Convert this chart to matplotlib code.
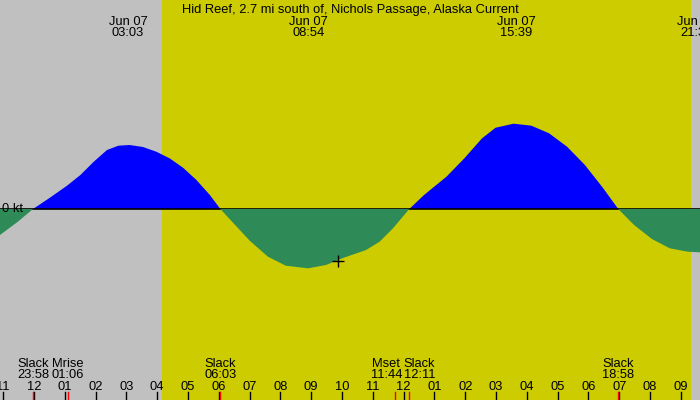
import matplotlib
matplotlib.use('Agg')
import matplotlib.pyplot as plt
import matplotlib.transforms as mtransforms
import numpy as np

# current speed (kt), time in hours from midnight Jun 07
hours = [-1.104, -0.523, -0.033, 0.487, 1.071, 1.506, 1.94, 2.37, 2.737, 3.10,
         3.536, 3.969, 4.403, 4.838, 5.273, 5.708, 6.05, 6.429, 7.013, 7.594,
         8.172, 8.896, 9.477, 10.057, 10.779, 11.218, 11.652, 12.183, 12.662, 13.39,
         13.97, 14.545, 14.984, 15.565, 16.144, 16.72, 17.305, 17.883, 18.464, 18.967,
         19.48, 20.06, 20.636, 21.218, 21.62]
speed = [-0.406, -0.198, 0.0, 0.167, 0.364, 0.531, 0.739, 0.922, 0.989, 1.0,
         0.969, 0.895, 0.792, 0.645, 0.453, 0.219, 0.0, -0.198, -0.5, -0.745,
         -0.886, -0.927, -0.875, -0.761, -0.641, -0.511, -0.302, 0.0, 0.219, 0.505,
         0.792, 1.105, 1.27, 1.333, 1.302, 1.183, 0.973, 0.688, 0.333, 0.0,
         -0.25, -0.469, -0.614, -0.667, -0.677]

title = 'Hid Reef, 2.7 mi south of, Nichols Passage, Alaska Current'
sunrise, sunset = 4.15, 21.33

# max / min current labels along the top
peak_hours = [3.05, 8.9, 15.65, 21.5]
peak_labels = ['03:03', '08:54', '15:39', '21:30']

# events along the bottom
event_hours = [-0.033, 1.1, 6.05, 11.733, 12.183, 18.967]
event_names = ['Slack', 'Mrise', 'Slack', 'Mset', 'Slack', 'Slack']
event_times = ['23:58', '01:06', '06:03', '11:44', '12:11', '18:58']
event_nudge = [0, 0, 0, -9, 10, 0]  # px, keeps crowded labels apart

now_hour, now_speed = 9.87, -0.81

x0, x1 = -1.104, 21.62
grey = '#c0c0c0'
yellow = '#cccc00'

fig = plt.figure(figsize=(7, 4), dpi=100)
fig.patch.set_facecolor(grey)
ax = fig.add_axes([0, 0, 1, 1])
ax.set_facecolor(grey)
ax.set_xlim(x0, x1)
ax.set_ylim(-191 / 64, 209 / 64)
ax.axis('off')

ax.axvspan(sunrise, sunset, color=yellow, lw=0, zorder=0)

h = np.array(hours)
s = np.array(speed)
ax.fill_between(h, 0, s, where=s >= 0, interpolate=True, color='#0000ff', lw=0, zorder=1)
ax.axhline(0, color='black', lw=1.2, zorder=2)
ax.fill_between(h, 0, s, where=s <= 0, interpolate=True, color='#2e8b57', lw=0, zorder=3)

ax.plot([now_hour], [now_speed], marker='+', color='black', ms=9, mew=1, zorder=4)

font = dict(family='Liberation Sans', fontsize=9.3)
tr = mtransforms.blended_transform_factory(ax.transData, ax.transAxes)

ax.text(x0 + 0.06, 0, '0 kt', ha='left', va='center', **font)
fig.text(0.5, 1 - 13 / 400, title, ha='center', va='baseline', **font)

for ph, pl in zip(peak_hours, peak_labels):
    ax.text(ph, 1 - 25 / 400, 'Jun 07', transform=tr, ha='center', va='baseline', clip_on=False, **font)
    ax.text(ph, 1 - 36 / 400, pl, transform=tr, ha='center', va='baseline', clip_on=False, **font)

# hour ticks
for hr in range(-1, 22):
    ax.plot([hr, hr], [0, 8 / 400], transform=tr, color='black', lw=1, zorder=5)
    lab = '%02d' % (hr % 12 if hr % 12 else 12)
    ax.text(hr, 10 / 400, lab, transform=tr, ha='center', va='baseline', **font)

for eh, en, et, nd in zip(event_hours, event_names, event_times, event_nudge):
    ax.plot([eh, eh], [0, 8 / 400], transform=tr, color='red', lw=1, zorder=6)
    off = mtransforms.offset_copy(tr, fig=fig, x=nd, y=0, units='dots')
    ax.text(eh, 33 / 400, en, transform=off, ha='center', va='baseline', **font)
    ax.text(eh, 22 / 400, et, transform=off, ha='center', va='baseline', **font)

fig.savefig('out.png', dpi=100, facecolor=grey)
